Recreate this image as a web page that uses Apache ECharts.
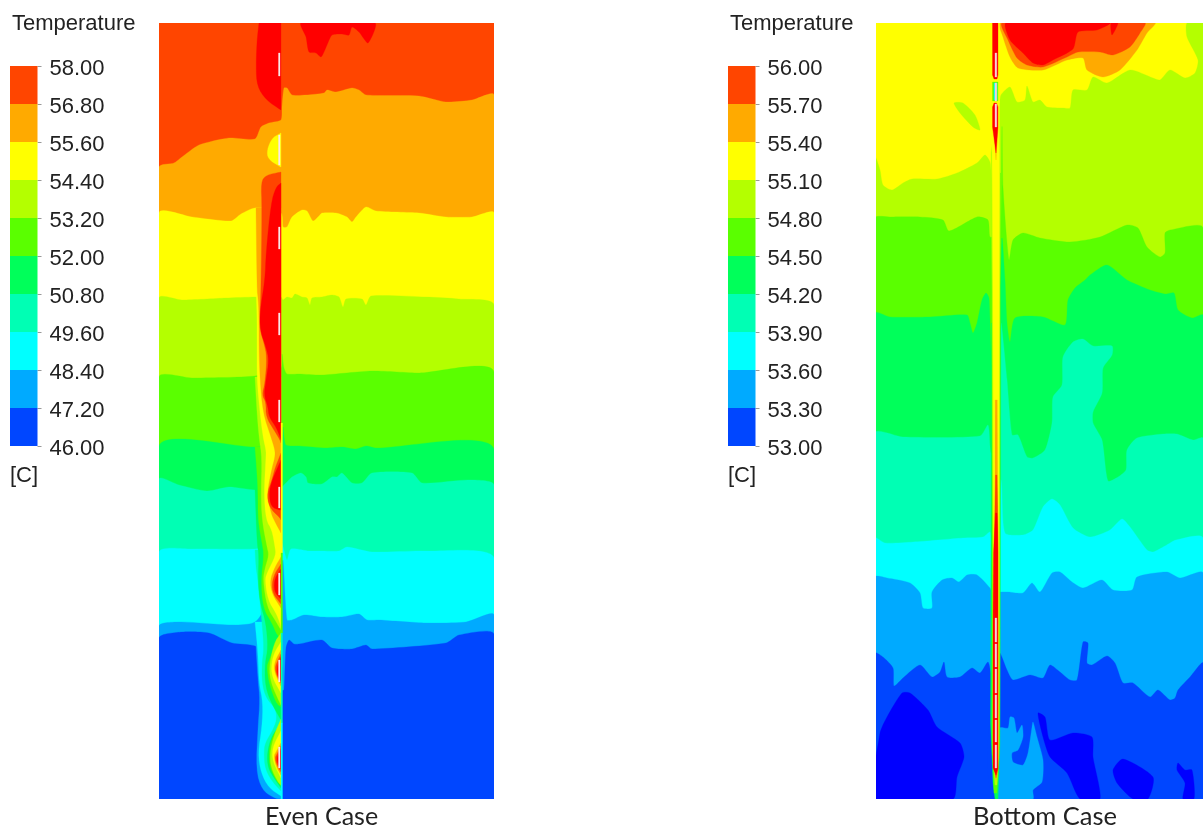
<!DOCTYPE html>
<html><head><meta charset="utf-8">
<style>html,body{margin:0;padding:0;background:#fff}#c{width:1203px;height:830px}</style>
<script src="https://cdn.jsdelivr.net/npm/echarts@6/dist/echarts.min.js"></script>
</head><body><div id="c"></div>
<script>
const evenTicks=['46.00','47.20','48.40','49.60','50.80','52.00','53.20','54.40','55.60','56.80','58.00'];
const bottomTicks=['53.00','53.30','53.60','53.90','54.20','54.50','54.80','55.10','55.40','55.70','56.00'];
const RED='#ff0000',ORED='#ff4500',ORG='#ffaa00',YEL='#ffff00',YG='#b4ff00',GRN='#5aff00',SPR='#00ff5a',AQU='#00ffb4',CYN='#00ffff',SKY='#00aaff',BLU='#0046ff',DEEP='#0000ff';
const legendColors=[BLU,SKY,CYN,AQU,SPR,GRN,YG,YEL,ORG,ORED];
const H=776, evenW=335, botW=327, WALL=122;

/* EVEN CASE: contour lines, domain units */
const eRedTop=[[142,0],[147,14],[150,29],[157,30],[162,34],[165,29],[168,22],[173,12],[183,11],[190,12],[193,4],[200,9],[209,20],[216,0]];
const eOrange=[[0,144],[15,140],[23,134],[40,122],[70,115],[96,116],[102,104],[110,100],[122,97],[123,84],[125,65],[128,65],[133,72],[147,72],[165,70],[168,67],[177,69],[193,65],[200,67],[207,72],[260,73],[287,79],[313,77],[335,72]];
const eYellow=[[0,190],[33,194],[72,198],[82,191],[96,185],[122,190],[124,204],[128,204],[133,194],[143,187],[148,188],[154,198],[160,193],[163,190],[177,190],[188,194],[193,199],[197,194],[207,184],[217,188],[260,190],[287,194],[313,194],[335,190]];
const eYG=[[0,275],[23,277],[67,275],[96,274],[122,274],[124,277],[128,274],[133,275],[136,271],[143,274],[148,275],[151,282],[153,275],[163,274],[173,272],[180,274],[184,284],[187,276],[203,276],[207,282],[212,273],[267,274],[300,276],[335,282]];
const eGreen=[[0,354],[33,355],[96,353],[122,345],[123,331],[125,345],[128,351],[140,351],[163,352],[213,348],[260,350],[335,349]];
const eSpring=[[0,423],[96,424],[122,420],[124,404],[127,422],[140,423],[167,425],[183,424],[197,426],[207,423],[217,425],[335,426]];
const eAqua=[[0,456],[20,462],[48,468],[70,464],[96,467],[122,466],[123,464],[128,459],[133,454],[142,450],[147,454],[149,460],[163,461],[173,454],[178,454],[183,450],[193,460],[203,460],[213,450],[253,450],[263,460],[310,457],[335,462]];
const eCyan=[[0,529],[33,526],[96,526],[122,522],[123,520],[128,537],[132,526],[150,528],[163,528],[180,528],[188,524],[213,529],[267,528],[335,535]];
const eSky=[[0,603],[20,599],[96,599],[122,540],[124,537],[128,597],[133,597],[145,592],[163,594],[183,594],[200,591],[208,597],[220,597],[267,600],[307,599],[335,592]];
const eBlue=[[0,615],[23,609],[50,610],[73,620],[96,623],[122,640],[123,667],[125,667],[127,625],[130,617],[135,621],[140,621],[163,617],[173,625],[193,626],[207,622],[213,626],[287,620],[300,612],[335,611]];
/* plume beside the heated wall */
const pTopRed=[[100,0],[98,17],[97,43],[98,63],[107,77],[122,87]];
const pBubble=[[122,110],[113,115],[108,127],[109,136],[120,143],[122,144]];
const pSky=[[96,599],[97,624],[99,657],[101,677],[99,704],[97,747],[103,767],[115,775],[122,776]];
const pCyan=[[96,599],[99,630],[100,660],[104,680],[103,704],[99,730],[102,750],[110,765],[122,773]];
const pAqua=[[96,527],[97,545],[99,557],[103,600],[105,625],[103,640],[103,660],[107,675],[116,685],[118,695],[115,705],[106,720],[105,730],[106,745],[112,757],[122,768]];
const pSpring=[[96,466],[98,520],[100,532],[99,557],[101,580],[107,600],[109,625],[106,640],[106,660],[110,675],[118,690],[122,697]];
const pSpring3=[[122,702],[113,712],[108,730],[109,745],[115,755],[122,765]];
const pGreen=[[96,424],[98,450],[99,470],[99,497],[103,520],[105,532],[102,557],[104,585],[113,600],[118,612],[122,615]];
const pGreen2=[[122,618],[115,625],[109,640],[108,644],[110,660],[117,680],[122,684]];
const pGreen3=[[122,700],[112,716],[110,730],[111,745],[117,757],[122,763]];
const pYG=[[96,354],[98,390],[100,414],[103,435],[102,470],[103,497],[108,524],[110,532],[106,545],[104,557],[108,584],[116,597],[122,607]];
const pYG2=[[122,610],[115,620],[110,644],[112,660],[119,676],[122,682]];
const pYG3=[[122,696],[115,712],[111,730],[112,745],[119,759],[122,762]];
const pYellow=[[96,185],[97,267],[98,290],[98,320],[98,357],[101,390],[104,414],[107,427],[107,434],[105,470],[107,497],[113,507],[116,524],[117,532],[108,550],[106,557],[109,577],[117,590],[121,600],[122,605]];
const pYellow2=[[122,619],[115,630],[112,644],[114,656],[122,670]];
const pYellow3=[[122,708],[115,721],[113,731],[115,741],[122,755]];
const pOrange=[[97,185],[98,267],[99,274],[100,290],[100,324],[101,357],[104,390],[112,414],[116,427],[116,434],[113,445],[108,470],[112,490],[115,497],[122,510]];
const pOrange1=[[122,534],[116,544],[111,557],[113,571],[122,585]];
const pOrange2=[[122,627],[117,636],[115,644],[117,653],[122,663]];
const pOrange3=[[122,720],[117,729],[115,733],[117,743],[122,752]];
const pOred=[[122,149],[107,152],[102,159],[103,184],[102,267],[101,290],[101,307],[105,320],[108,334],[106,360],[103,372],[107,379],[107,394],[115,407],[121,417],[122,420]];
const pOred0=[[122,430],[116,445],[113,457],[108,470],[110,484],[121,495],[122,497]];
const pOred1=[[122,541],[116,550],[113,560],[114,571],[122,581]];
const pOred2=[[122,631],[118,639],[116,645],[118,653],[122,660]];
const pOred3=[[122,723],[118,731],[116,735],[118,742],[122,749]];
const pRed=[[122,160],[117,164],[112,180],[107,230],[106,257],[101,287],[101,307],[107,324],[110,337],[107,357],[105,372],[109,384],[110,394],[117,404],[121,414],[122,417]];
const pRed0=[[122,437],[113,457],[110,470],[112,484],[121,487],[122,487]];
const pRed1=[[122,546],[117,553],[115,561],[116,570],[122,576]];
const pRed2=[[122,634],[119,641],[118,647],[119,654],[122,658]];
const pRed3=[[122,726],[119,732],[118,736],[119,741],[122,746]];
const eWall=[[400,530,YEL],[530,610,GRN],[610,700,AQU],[700,776,CYN]];
const eSlits=[[30,53],[112,142],[204,226],[290,312],[377,399],[464,485],[550,572],[637,659],[724,745]];

/* BOTTOM CASE */
const bOrange=[[124,0],[127,14],[134,34],[142,45],[167,47],[191,37],[207,35],[211,47],[227,54],[244,47],[261,27],[271,10],[279,0]];
const bOred=[[126,0],[132,17],[141,35],[151,42],[167,44],[191,34],[202,29],[224,29],[237,32],[254,24],[264,10],[269,0]];
const bRed=[[130,0],[134,17],[147,30],[157,40],[167,42],[177,37],[197,26],[202,9],[221,7],[234,0]];
const bRedSliver=[[236,12],[242,0],[235,0]];
const bYGL=[[-1,134],[4,147],[7,162],[16,167],[27,160],[36,156],[61,156],[81,150],[101,140],[109,132],[114,139],[116,155]];
const bYGR=[[123,84],[125,72],[134,64],[141,79],[149,77],[151,63],[157,79],[164,77],[171,84],[187,85],[194,85],[197,67],[211,67],[217,54],[231,60],[254,47],[277,55],[284,57],[294,47],[309,55],[319,50],[322,37],[311,14],[311,0],[327,0]];
const bYGIsle=[[78,80],[87,80],[99,92],[104,107],[97,104],[84,90]];
const bGreenL=[[-1,195],[14,194],[44,194],[67,197],[73,208],[101,194],[112,197],[114,214]];
const bGreenR=[[124,264],[126,104],[127,164],[133,237],[137,217],[147,210],[164,215],[194,219],[224,214],[251,202],[262,205],[271,224],[284,234],[289,230],[289,210],[294,207],[327,205]];
const bSpringL=[[-1,290],[14,294],[54,294],[91,292],[94,300],[97,310],[101,300],[106,277],[110,270],[113,275],[116,344]];
const bSpringR=[[124,264],[126,215],[129,257],[131,300],[134,319],[139,295],[167,294],[189,302],[192,277],[199,265],[209,257],[214,252],[231,242],[251,257],[274,267],[289,271],[298,270],[302,287],[316,295],[327,292]];
const bAquaL=[[-1,410],[27,414],[104,413],[112,402],[115,430]];
const bAquaR=[[124,350],[125,300],[131,357],[136,412],[142,412],[151,434],[157,435],[169,427],[176,400],[177,374],[186,362],[187,334],[197,319],[207,316],[217,323],[236,323],[236,332],[227,345],[226,370],[217,389],[217,400],[226,417],[232,458],[242,454],[250,447],[251,427],[261,415],[287,411],[301,411],[317,417],[327,415]];
const bCyanL=[[-1,515],[9,520],[37,519],[87,515],[107,514],[114,509],[116,527]];
const bCyanR=[[125,457],[129,510],[147,512],[157,507],[167,484],[176,476],[184,482],[197,505],[214,514],[234,507],[246,496],[254,504],[271,527],[277,529],[289,523],[300,517],[327,515]];
const bSkyL=[[-1,554],[11,555],[34,560],[44,570],[47,585],[56,585],[56,569],[66,557],[76,555],[83,559],[91,552],[101,552],[114,565],[116,570]];
const bSkyR=[[124,569],[132,569],[147,570],[156,560],[164,569],[176,550],[184,549],[196,559],[207,565],[226,557],[237,567],[256,567],[261,554],[291,549],[304,555],[327,550]];
const bBlueL=[[-1,630],[7,634],[17,645],[18,663],[27,655],[44,642],[56,654],[64,649],[68,639],[71,654],[84,654],[96,645],[104,650],[112,639],[116,654]];
const bBlueR=[[124,630],[131,647],[137,657],[154,652],[167,655],[174,642],[184,649],[194,657],[201,657],[207,619],[212,620],[211,640],[216,642],[231,633],[239,640],[247,660],[257,660],[274,674],[282,667],[294,677],[299,675],[302,667],[314,654],[327,640]];
const bDeep1=[[-1,776],[4,710],[11,694],[26,670],[34,670],[52,687],[61,704],[84,720],[88,734],[81,754],[77,776]];
const bDeep2=[[162,690],[169,694],[174,717],[197,710],[216,714],[217,734],[224,776],[204,776],[191,750],[174,734],[167,714]];
const bDeep3=[[237,747],[247,736],[277,754],[272,776],[257,776],[241,760]];
const bDeep4=[[302,740],[309,747],[316,747],[318,776],[307,776],[309,760],[301,747]];
const bSkyIsle=[[124,705],[132,705],[134,694],[138,695],[141,710],[146,702],[147,714],[142,727],[136,730],[137,739],[147,742],[152,730],[156,704],[157,699],[161,714],[167,737],[166,759],[157,767],[157,776],[122,776]];
const bFringeSpr=[[115.5,300],[115,500],[114.5,700],[117,760],[119,776],[122,776],[124,720],[124.5,500],[125,300]];
const bFringeGrn=[[116,150],[116,500],[116,720],[118,770],[121,770],[123.5,720],[124,500],[124.5,150]];
const bFringeYG=[[115,130],[116,270],[116.7,510],[116.7,730],[119,762],[121,762],[123,730],[123.6,510],[124,85],[123,80]];
const bYelCore=[[115.5,0],[116,120],[117,270],[117.5,510],[117.5,735],[120,755],[122.5,735],[123,510],[123.5,85],[123.5,0]];
const bOrgTip=[[118,104],[120,137],[121.5,104]];
const bRedTop=[[116.5,0],[116.5,52],[118,56],[121,56],[122,52],[122,0]];
const bRedMid=[[116.5,84],[116.5,104],[120,130],[122,104],[122,84],[120.5,80],[118,80]];
const bSlot=[[116.5,59],[116.5,78],[122,78],[122,59]];
const bSlotIn=[[118,60],[118,77],[121,77],[121,60]];
const bOrgCore=[[119.2,377],[118.8,510],[118.5,745],[120,757],[122,745],[121.8,510],[121.2,377]];
const bOredCore=[[119.5,452],[118.5,510],[118,745],[120,755],[122,745],[122,510],[121,452]];
const bRedCore=[[119.5,490],[117.5,530],[117,600],[117,745],[120,752],[122,745],[122,530],[121,490]];
const bSlits=[[30,54],[60,78],[81,104],[595,619],[621,644],[646,670],[672,695],[697,719],[722,745]];

/* Assemble filled regions, painted in order */
const below=(pts,xa,xb)=>pts.concat([[xb,H],[xa,H]]);
const splitL=(pts,x)=>pts.concat([[x,pts[pts.length-1][1]],[x,H],[pts[0][0],H]]);
const splitR=(pts,x,xEnd)=>[[x,pts[0][1]]].concat(pts,[[xEnd,H],[x,H]]);
const slit=(r,x0,x1,c)=>({c:c,p:[[x0,r[0]],[x1,r[0]],[x1,r[1]],[x0,r[1]]],sharp:true});
/* rounds an open edge for drawing and closes it along the wall */
function soft(pts){
 let a=pts;
 for(let k=0;k<2;k++){const o=[a[0]];for(let i=0;i<a.length-1;i++){const p=a[i],q=a[i+1];
   o.push([p[0]*.75+q[0]*.25,p[1]*.75+q[1]*.25],[p[0]*.25+q[0]*.75,p[1]*.25+q[1]*.75]);}
   o.push(a[a.length-1]);a=o;}
 return a.concat([[WALL,pts[pts.length-1][1]],[WALL,pts[0][1]]]);
}
const plume=(c,pts)=>({c:c,p:soft(pts),sharp:true});
const evenRegions=[
 {c:ORED,p:[[0,0],[evenW,0],[evenW,H],[0,H]],sharp:true},
 {c:RED,p:eRedTop},{c:ORG,p:below(eOrange,0,evenW)},{c:YEL,p:below(eYellow,0,evenW)},{c:YG,p:below(eYG,0,evenW)},
 {c:GRN,p:below(eGreen,0,evenW)},{c:SPR,p:below(eSpring,0,evenW)},{c:AQU,p:below(eAqua,0,evenW)},{c:CYN,p:below(eCyan,0,evenW)},
 {c:SKY,p:below(eSky,0,evenW)},{c:BLU,p:below(eBlue,0,evenW)},
 plume(RED,pTopRed),plume(YEL,pBubble),
 plume(SKY,pSky),plume(CYN,pCyan),plume(AQU,pAqua),plume(SPR,pSpring),plume(SPR,pSpring3),
 plume(GRN,pGreen),plume(GRN,pGreen2),plume(GRN,pGreen3),plume(YG,pYG),plume(YG,pYG2),plume(YG,pYG3),
 plume(YEL,pYellow),plume(YEL,pYellow2),plume(YEL,pYellow3),
 plume(ORG,pOrange),plume(ORG,pOrange1),plume(ORG,pOrange2),plume(ORG,pOrange3),
 plume(ORED,pOred),plume(ORED,pOred0),plume(ORED,pOred1),plume(ORED,pOred2),plume(ORED,pOred3),
 plume(RED,pRed),plume(RED,pRed0),plume(RED,pRed1),plume(RED,pRed2),plume(RED,pRed3)
].concat(eWall.map(w=>slit(w,122,123.5,w[2])),eSlits.map(s=>slit(s,119.5,121,'#fbe8e8')));
const sharp=(c,p)=>({c:c,p:p,sharp:true});
const bottomRegions=[
 {c:YEL,p:[[0,0],[botW,0],[botW,H],[0,H]],sharp:true},
 {c:ORG,p:bOrange},{c:ORED,p:bOred},{c:RED,p:bRed},{c:RED,p:bRedSliver},
 {c:YG,p:splitL(bYGL,120)},{c:YG,p:splitR(bYGR,120,botW)},{c:YG,p:bYGIsle},
 {c:GRN,p:splitL(bGreenL,120)},{c:GRN,p:splitR(bGreenR,120,botW)},
 {c:SPR,p:splitL(bSpringL,120)},{c:SPR,p:splitR(bSpringR,120,botW)},
 {c:AQU,p:splitL(bAquaL,120)},{c:AQU,p:splitR(bAquaR,120,botW)},
 {c:CYN,p:splitL(bCyanL,120)},{c:CYN,p:splitR(bCyanR,120,botW)},
 {c:SKY,p:splitL(bSkyL,120)},{c:SKY,p:splitR(bSkyR,120,botW)},
 {c:BLU,p:splitL(bBlueL,120)},{c:BLU,p:splitR(bBlueR,120,botW)},
 {c:DEEP,p:bDeep1},{c:DEEP,p:bDeep2},{c:DEEP,p:bDeep3},{c:DEEP,p:bDeep4},{c:SKY,p:bSkyIsle},
 sharp(SPR,bFringeSpr),sharp(GRN,bFringeGrn),sharp(YG,bFringeYG),sharp(YEL,bYelCore),
 sharp(ORG,bOrgTip),sharp(RED,bRedTop),sharp(RED,bRedMid),sharp(GRN,bSlot),sharp(CYN,bSlotIn),
 sharp(ORG,bOrgCore),sharp(ORED,bOredCore),sharp(RED,bRedCore)
].concat(bSlits.map(s=>slit(s,119,120.8,'#f8d4d4')));

function contourSeries(regions,axis){
 return {type:'custom',coordinateSystem:'cartesian2d',xAxisIndex:axis,yAxisIndex:axis,clip:true,silent:true,
  data:regions.map((r,i)=>[0,0,i]),encode:{x:0,y:1},
  renderItem:function(params,api){
   const r=regions[api.value(2)];
   return {type:'polygon',shape:{points:r.p.map(q=>api.coord(q)),smooth:r.sharp?0:0.22},
     style:{fill:r.c,stroke:r.c,lineWidth:0.3}};
  }};
}
function legendSeries(axis,stack){
 return legendColors.map(c=>({type:'bar',stack:stack,xAxisIndex:axis,yAxisIndex:axis,data:[1],barWidth:'100%',silent:true,itemStyle:{color:c}}));
}
const ARIAL='"Liberation Sans", Arial, sans-serif';
const hiddenX=(i,w)=>({gridIndex:i,type:'value',min:0,max:w,show:false});
const hiddenY=(i)=>({gridIndex:i,type:'value',min:0,max:H,inverse:true,show:false});
const legX=(i)=>({gridIndex:i,type:'category',data:['T'],show:false});
const legY=(i,t)=>({gridIndex:i,type:'value',min:0,max:10,interval:1,position:'right',splitLine:{show:false},
  axisLine:{show:false},axisTick:{show:true,length:4,lineStyle:{color:'#999'}},
  axisLabel:{margin:12,verticalAlign:'top',lineHeight:5,fontFamily:ARIAL,fontSize:22,color:'#222',formatter:v=>t[v]}});
const txt=(s,l,t,size,fam)=>({text:s,left:l,top:t,padding:0,textStyle:{fontFamily:fam,fontSize:size,fontWeight:'normal',color:'#222'}});
const chart=echarts.init(document.getElementById('c'),null,{renderer:'canvas'});
chart.setOption({animation:false,backgroundColor:'#fff',tooltip:{show:false},
 title:[txt('Temperature',12,13,22,ARIAL),txt('[C]',10,465,22,ARIAL),
        txt('Temperature',730,13,22,ARIAL),txt('[C]',728,465,22,ARIAL),
        txt('Even Case',265,804,25,'Lato'),txt('Bottom Case',973,804,25.5,'Lato')],
 grid:[{left:159,top:23,width:evenW,height:H},{left:10,top:66,width:27.5,height:380},
       {left:876,top:23,width:botW,height:H},{left:728,top:66,width:27.5,height:380}],
 xAxis:[hiddenX(0,evenW),legX(1),hiddenX(2,botW),legX(3)],
 yAxis:[hiddenY(0),legY(1,evenTicks),hiddenY(2),legY(3,bottomTicks)],
 series:[contourSeries(evenRegions,0),contourSeries(bottomRegions,2)].concat(legendSeries(1,'e'),legendSeries(3,'b'))
});
</script></body></html>
